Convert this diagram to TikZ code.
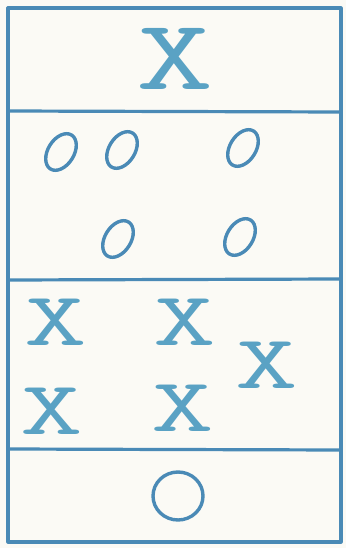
\documentclass[tikz,border=0pt]{standalone}
\usepackage{fontspec}
\definecolor{paper}{HTML}{FBFAF5}
\definecolor{ink}{HTML}{4A8AB6}
\definecolor{xink}{HTML}{5AA2C4}
\tikzset{
  frame/.style={draw=ink, line width=3.2pt, line cap=round, line join=round},
  bigx/.style={text=xink, font=\fontsize{100}{100}\selectfont\ttfamily, inner sep=0pt, xscale=1.5},
  smallx/.style={text=xink, font=\fontsize{76}{76}\selectfont\ttfamily, inner sep=0pt, xscale=1.6},
  oval/.style={draw=ink, line width=3.4pt},
}
\begin{document}
\begin{tikzpicture}[x=1pt, y=-1pt]
\fill[paper] (0,0) rectangle (346,548);
\useasboundingbox (0,0) rectangle (346,548);
% frame corners
\coordinate (tl) at (8,8);
\coordinate (tr) at (341,8);
\coordinate (bl) at (8,542);
\coordinate (br) at (341,542);
\coordinate (l1) at (8,111);  \coordinate (r1) at (341,112);
\coordinate (l2) at (8,280);  \coordinate (r2) at (341,279);
\coordinate (l3) at (8,449);  \coordinate (r3) at (341,450);
\draw[frame] (tl) -- (tr) -- (br) -- (bl) -- cycle;
\draw[frame] (l1) -- (r1);
\draw[frame] (l2) -- (r2);
\draw[frame] (l3) -- (r3);
% top X
\node[bigx] (xtop) at (175,59) {X};
% o's
\foreach \n/\px/\py in {o1/61/152, o2/122/150, o3/243/148, o4/118/239, o5/240/237}{
  \draw[oval, rotate around={58:(\px,\py)}] (\px,\py) ellipse [x radius=20pt, y radius=13pt];
}
% X's in third section
\node[smallx] (x1) at (56,322) {X};
\node[smallx] (x2) at (185,322) {X};
\node[smallx] (x3) at (267,365) {X};
\node[smallx] (x4) at (52,411) {X};
\node[smallx] (x5) at (183,408) {X};
% bottom O
\draw[oval] (178,496) ellipse [x radius=25pt, y radius=24pt];
\end{tikzpicture}
\end{document}
